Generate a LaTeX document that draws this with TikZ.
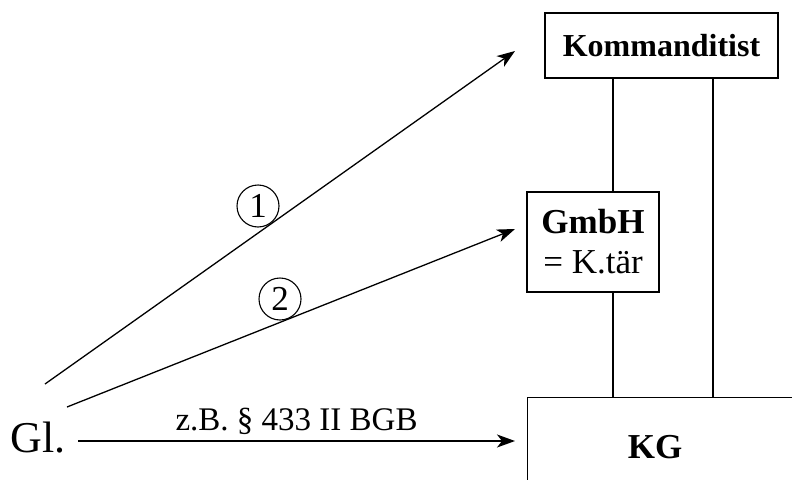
\documentclass[tikz,border=0pt]{standalone}
\usepackage{fontspec}
\setmainfont{Liberation Serif}
\usetikzlibrary{arrows.meta}

\begin{document}
\begin{tikzpicture}[x = 1pt, y = -1pt, line width = 1.3pt, >={Stealth[length=18pt, width=13pt, inset=5pt]}]
\tikzstyle{box} = [shape = rectangle, draw, inner sep = 0pt, align = center]
\tikzstyle{circ} = [shape = circle, draw, line width = 1.1pt, minimum size = 42pt, inner sep = 0pt, font = \fontsize{35}{35}\selectfont]
\clip (0, 0) rectangle (792, 479);
\node[box, minimum width = 233pt, minimum height = 65pt, font = \bfseries\fontsize{32}{38}\selectfont] (Komm) at (661.5, 45.5) {Kommanditist};
\node[box, minimum width = 132pt, minimum height = 100pt, font = \fontsize{35}{40}\selectfont] (GmbH) at (593, 242) {\textbf{GmbH}\\= K.tär};
\node[box, anchor = north west, minimum width = 340pt, minimum height = 140pt] (KG) at (527, 397) {};
\node[font = \bfseries\fontsize{35}{40}\selectfont] (KG-text) at (655, 447) {KG};
\node[font = \fontsize{44}{48}\selectfont, inner sep = 0pt] (Gl) at (38, 438) {Gl.};
\node[circ] (N-1) at (258, 206) {1};
\node[circ] (N-2) at (280, 299) {2};
\coordinate (A-1) at (45, 384);
\coordinate (B-1) at (515, 51);
\coordinate (A-2) at (67, 407);
\coordinate (B-2) at (515, 229);
\draw[->] (A-1) -- (B-1);
\draw[->] (A-2) -- (B-2);
\draw[->, shorten < = 12pt, shorten > = 12pt] (Gl.east |- 0, 441) -- node[above, inner sep = 6pt, font = \fontsize{33}{36}\selectfont] {z.B. \S\ 433 II BGB} (KG.west |- 0, 441);
\draw ([xshift = -48.5pt]Komm.south) coordinate (C-1) -- (C-1 |- GmbH.north);
\draw (GmbH.south -| C-1) -- (C-1 |- KG.north);
\draw ([xshift = 51.5pt]Komm.south) coordinate (C-2) -- (C-2 |- KG.north);
\end{tikzpicture}
\end{document}
